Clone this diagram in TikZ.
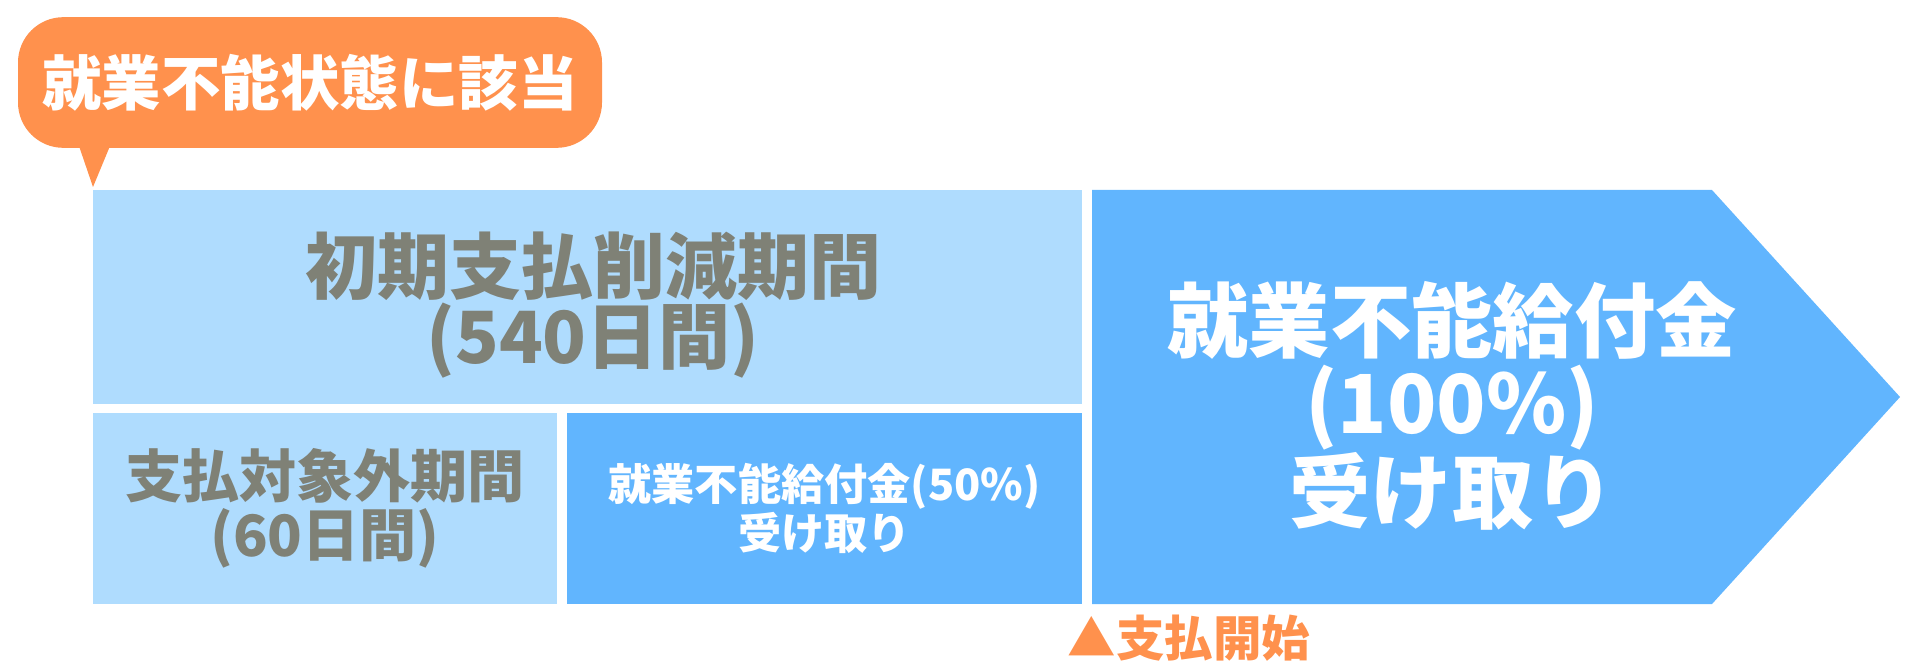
\documentclass[tikz,border=0pt]{standalone}
\usepackage{fontspec}
\newfontfamily\jpfont{Noto Sans CJK JP Black}
\definecolor{bubbleorange}{HTML}{FF914D}
\definecolor{paleblue}{HTML}{AFDCFE}
\definecolor{fullblue}{HTML}{61B5FE}
\definecolor{textgray}{HTML}{7F8176}
\tikzset{
  period/.style={inner sep=0pt, align=center},
  bubble/.style={fill=bubbleorange, rounded corners=17pt, inner sep=0pt,
    minimum width=219pt, minimum height=49pt, text=white,
    font=\jpfont\fontsize{22.3}{24}\selectfont}
}
\begin{document}
\begin{tikzpicture}[x=0.375pt,y=-0.375pt]
\useasboundingbox (0,0) rectangle (1920,670);

% speech bubble
\node[bubble] (state) at (310,82.5) {就業不能状態に該当};
\coordinate (tailL) at (79,146);
\coordinate (tailR) at (110,146);
\coordinate (tailtip) at (93,187);
\fill[bubbleorange] (tailL) -- (tailtip) -- (tailR) -- cycle;

% periods
\node[period, fill=paleblue, minimum width=370.9pt, minimum height=80.25pt,
  text=textgray] (reduce) at (587.5,297) {};
\node[period, text=textgray, font=\jpfont\fontsize{27}{26.5}\selectfont] (reducetext) at (593,305)
  {初期支払削減期間\\(540日間)};
\node[period, fill=paleblue, minimum width=174pt, minimum height=71.6pt,
  text=textgray, font=\jpfont\fontsize{21.4}{22}\selectfont] (nopay) at (325,508.5)
  {支払対象外期間\\(60日間)};
\node[period, fill=fullblue, minimum width=193.1pt, minimum height=71.6pt,
  text=white, font=\jpfont\fontsize{16.2}{15.5}\selectfont] (half) at (824.5,508.5)
  {就業不能給付金(50\%)\\受け取り};

% full benefit arrow
\fill[fullblue] (1092,190) -- (1712,190) -- (1900,397) -- (1712,604) -- (1092,604) -- cycle;
\node[period, text=white, font=\jpfont\fontsize{30.5}{30.5}\selectfont] (full) at (1452,406)
  {就業不能給付金\\(100\%)\\受け取り};

\node[period, text=bubbleorange, font=\jpfont\fontsize{18.2}{19}\selectfont] (start) at (1189,638)
  {▲支払開始};
\end{tikzpicture}
\end{document}
